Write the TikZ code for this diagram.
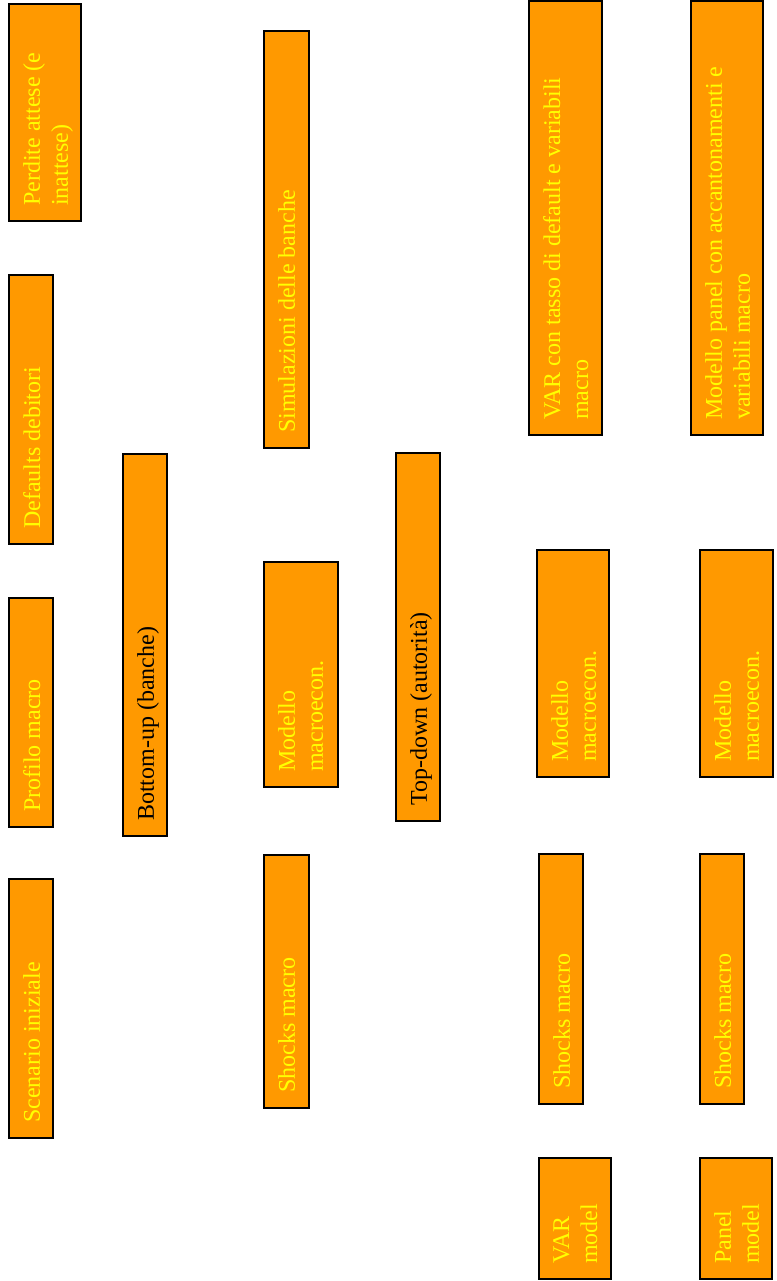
\documentclass[tikz,border=0pt]{standalone}
\usepackage{fontspec}
\setmainfont{Liberation Serif}
\usetikzlibrary{calc}
\definecolor{boxorange}{RGB}{255,153,0}
\definecolor{txtyellow}{RGB}{255,255,0}
\tikzset{
  obox/.style={draw=black, fill=boxorange, line width=1.5pt, inner sep=0pt, outer sep=0pt, anchor=north west},
  olbl/.style={rotate=90, anchor=north west, inner sep=0pt, align=left, font=\fontsize{24}{28}\selectfont},
}
\newcommand\mkbox[7]{%
  \node[obox, minimum width={(#4-#2)*1pt}, minimum height={(#5-#3)*1pt}] (#1) at (#2,#3) {};
  \node[olbl, text=#7] (#1t) at ([xshift=14pt,yshift=15pt]#1.south west) {#6};
}
\begin{document}
\begin{tikzpicture}[x=1pt,y=-1pt]
\path[use as bounding box, fill=white] (0,0) rectangle (776,1281);
\mkbox{perdite}{9}{4}{81}{221}{Perdite attese (e\\inattese)}{txtyellow}
\mkbox{defaults}{9}{275}{53}{544}{Defaults debitori}{txtyellow}
\mkbox{profilo}{9}{598}{53}{827}{Profilo macro}{txtyellow}
\mkbox{scenario}{9}{879}{53}{1138}{Scenario iniziale}{txtyellow}
\mkbox{bottomup}{123}{454}{167}{836}{Bottom-up (banche)}{black}
\mkbox{simul}{264}{31}{309}{448}{Simulazioni delle banche}{txtyellow}
\mkbox{macroA}{264}{562}{338}{787}{Modello\\macroecon.}{txtyellow}
\mkbox{shocksA}{264}{855}{309}{1108}{Shocks macro}{txtyellow}
\mkbox{topdown}{396}{453}{440}{821}{Top-down (autorità)}{black}
\mkbox{var}{529}{1}{602}{435}{VAR con tasso di default e variabili\\macro}{txtyellow}
\mkbox{panel}{691}{1}{763}{435}{Modello panel con accantonamenti e\\variabili macro}{txtyellow}
\mkbox{macroB}{537}{550}{609}{777}{Modello\\macroecon.}{txtyellow}
\mkbox{macroC}{700}{550}{773}{777}{Modello\\macroecon.}{txtyellow}
\mkbox{shocksB}{539}{854}{583}{1104}{Shocks macro}{txtyellow}
\mkbox{shocksC}{700}{854}{744}{1104}{Shocks macro}{txtyellow}
\mkbox{varmodel}{539}{1158}{611}{1279}{VAR\\model}{txtyellow}
\mkbox{panelmodel}{700}{1158}{772}{1279}{Panel\\model}{txtyellow}
\end{tikzpicture}
\end{document}
